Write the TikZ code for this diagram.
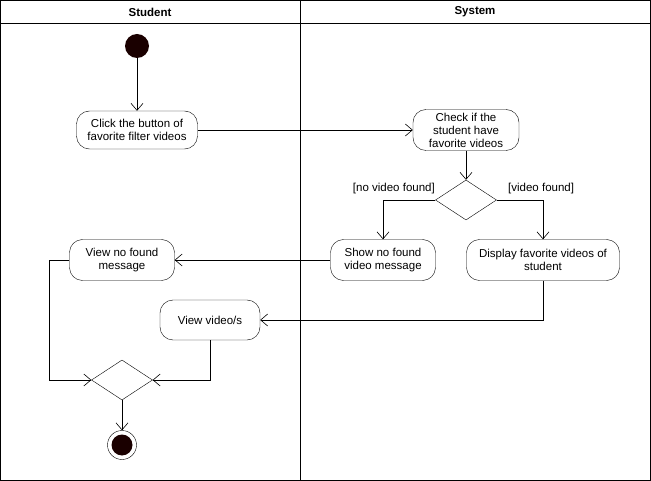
\documentclass[tikz,border=0pt]{standalone}
\usepackage{fontspec}
\setmainfont{Liberation Sans}
\usetikzlibrary{arrows.meta,shapes.geometric}
\definecolor{dotfill}{HTML}{1A0000}
\tikzset{
  act/.style={draw, rounded corners=13pt, fill=white, align=center, font=\fontsize{11.5}{13}\selectfont, inner sep=0pt},
  dec/.style={draw, diamond, fill=white, minimum width=61pt, minimum height=40pt, inner sep=0pt, aspect=1.5},
  flow/.style={-{Straight Barb[length=7pt,width=12pt]}, line width=0.6pt},
  lbl/.style={font=\fontsize{11.5}{13}\selectfont, inner sep=1pt},
  head/.style={font=\bfseries\fontsize{11.5}{13}\selectfont}
}
\begin{document}
\begin{tikzpicture}[x=1pt,y=-1pt]
\useasboundingbox (0,0) rectangle (651,481);
% swimlanes
\draw[line width=0.8pt] (0.5,0.5) rectangle (650,480);
\draw[line width=0.8pt] (0.5,23) -- (650,23);
\draw[line width=0.8pt] (300,0.5) -- (300,480);
\node[head] (h1) at (150,12) {Student};
\node[head] (h2) at (475,12) {System};
% nodes
\node[circle, fill=dotfill, minimum size=24pt, inner sep=0pt] (start) at (137,46) {};
\node[act, minimum width=121pt, minimum height=38pt] (click) at (137,130) {Click the button of\\favorite filter videos};
\node[act, minimum width=106pt, minimum height=41pt] (check) at (466,130) {Check if the\\student have\\favorite videos};
\node[dec] (d1) at (466,200) {};
\node[act, minimum width=105pt, minimum height=41pt] (show) at (383,260) {Show no found\\video message};
\node[act, minimum width=153pt, minimum height=41pt] (disp) at (543,260) {Display favorite videos of\\student};
\node[act, minimum width=105pt, minimum height=41pt] (viewno) at (122,260) {View no found\\message};
\node[act, minimum width=100pt, minimum height=40pt] (viewvid) at (210,320) {View video/s};
\node[dec] (d2) at (122,380) {};
\node[circle, draw, fill=white, minimum size=29pt, inner sep=0pt] (endo) at (122,445) {};
\node[circle, fill=dotfill, minimum size=21pt, inner sep=0pt] (endi) at (122,445) {};
% labels
\node[lbl, anchor=east] (l1) at (436,189) {[no video found]};
\node[lbl, anchor=west] (l2) at (507,189) {[video found]};
% flows
\draw[flow] (start) -- (click);
\draw[flow] (click) -- (check);
\draw[flow] (check) -- (d1);
\draw[flow] (d1.west) -| (show.north);
\draw[flow] (d1.east) -| (disp.north);
\draw[flow] (show) -- (viewno);
\draw[flow] (disp.south) |- (viewvid.east);
\draw[flow] (viewvid.south) |- (d2.east);
\draw[flow] (viewno.west) -- ++(-20,0) |- (d2.west);
\draw[flow] (d2) -- (endo);
\end{tikzpicture}
\end{document}
